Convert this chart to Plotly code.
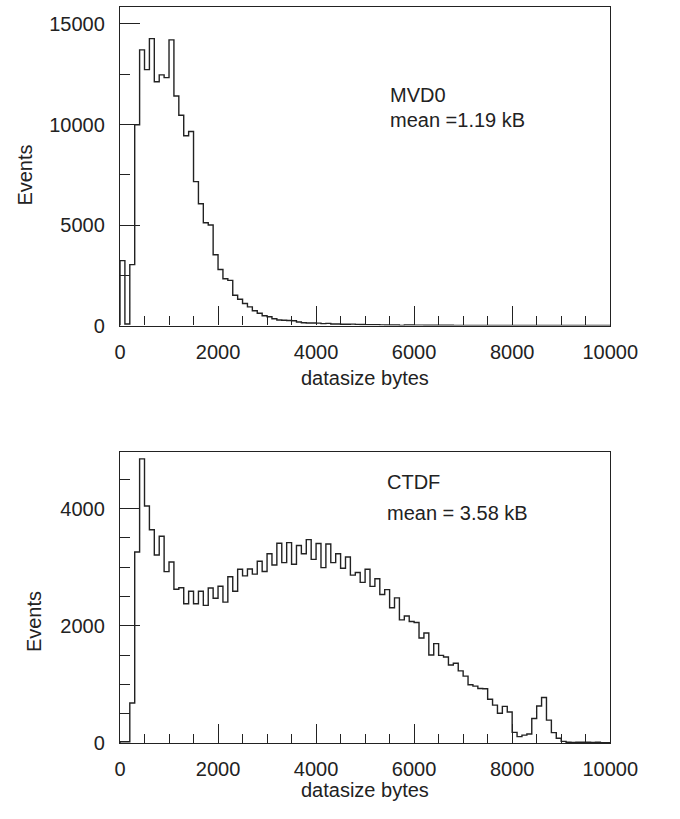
import plotly.graph_objects as go

# ---- data (100 bins of 100 bytes, 0..10000) ----
bin_width = 100
n_bins = 100

mvd0_counts = [
    3230, 80, 3030, 9990, 13710, 12730, 14270, 12130, 12470, 12330,
    14210, 11420, 10460, 9440, 9650, 7160, 6060, 5110, 5000, 3520,
    2790, 2330, 2250, 1510, 1310, 1100, 930, 740, 610, 490,
    440, 340, 280, 262, 250, 240, 180, 140, 128, 125,
    120, 97, 110, 80, 80, 64, 64, 72, 60, 55,
    47, 47, 45, 32, 30, 30, 25, 8, 30, 28,
    22, 20, 16, 15, 14, 13, 12, 12, 10, 8,
    7, 6, 6, 5, 5, 4, 4, 3, 3, 3,
    2, 2, 2, 2, 2, 1, 1, 1, 1, 1,
    1, 1, 1, 1, 0, 0, 0, 0, 0, 0,
]

ctdf_counts = [
    20, 20, 680, 3260, 4850, 4045, 3640, 3210, 3530, 2925,
    3090, 2625, 2650, 2376, 2589, 2376, 2589, 2348, 2646, 2471,
    2674, 2404, 2837, 2589, 2966, 2853, 2971, 2882, 3101, 2926,
    3230, 3039, 3409, 3078, 3421, 3050, 3370, 3230, 3471, 3134,
    3404, 2994, 3398, 3078, 3230, 2983, 3174, 2865, 2910, 2741,
    2966, 2673, 2802, 2533, 2617, 2308, 2477, 2101, 2168, 2073,
    2056, 1792, 1876, 1500, 1696, 1494, 1466, 1331, 1359, 1230,
    1140, 994, 970, 930, 925, 745, 645, 505, 623, 528,
    180, 107, 132, 152, 416, 629, 775, 388, 175, 80,
    25, 10, 8, 10, 12, 10, 8, 10, 5, 3,
]

x_ticks = [0, 2000, 4000, 6000, 8000, 10000]
top_y_ticks = [0, 5000, 10000, 15000]
bot_y_ticks = [0, 2000, 4000]

labels = {
    "x_title": "datasize bytes",
    "y_title": "Events",
    "top_name": "MVD0",
    "top_mean": "mean =1.19 kB",
    "bot_name": "CTDF",
    "bot_mean": "mean = 3.58 kB",
}

# ---- step outline built from bin edges ----
edges = [i * bin_width for i in range(n_bins + 1)]


def outline(counts):
    xs = [edges[0]] + edges[:n_bins] + [edges[n_bins], edges[n_bins]]
    ys = [0] + list(counts) + [counts[-1], 0]
    return xs, ys


W, H = 680, 819
INK = "#222222"
FONT = "Liberation Sans, Arial, sans-serif"
FS = 20


def px_x(p):
    return p / W


def px_y(p):
    return 1 - p / H


fig = go.Figure()
xs, ys = outline(mvd0_counts)
fig.add_trace(go.Scatter(x=xs, y=ys, mode="lines", xaxis="x", yaxis="y",
                         line=dict(shape="hv", color=INK, width=1.4),
                         showlegend=False, hoverinfo="skip"))
xs, ys = outline(ctdf_counts)
fig.add_trace(go.Scatter(x=xs, y=ys, mode="lines", xaxis="x2", yaxis="y2",
                         line=dict(shape="hv", color=INK, width=1.4),
                         showlegend=False, hoverinfo="skip"))

x_dom = [px_x(120), px_x(636)]


def xaxis(anchor):
    return dict(domain=x_dom, anchor=anchor, range=[0, 10000],
                tickmode="array", tickvals=x_ticks,
                ticktext=[str(v) for v in x_ticks],
                ticks="inside", ticklen=19, tickwidth=1.2, tickcolor=INK,
                minor=dict(dtick=500, tick0=0, ticks="inside", ticklen=9,
                           tickwidth=1.2, tickcolor=INK, showgrid=False),
                showline=True, linecolor=INK, linewidth=1.4, mirror=True,
                showgrid=False, zeroline=False,
                tickfont=dict(family=FONT, size=FS, color=INK),
                ticklabelstandoff=8)


def yaxis(anchor, dom, rng, ticks, minor_dt):
    return dict(domain=dom, anchor=anchor, range=rng,
                tickmode="array", tickvals=ticks,
                ticktext=[str(v) for v in ticks],
                ticks="inside", ticklen=20, tickwidth=1.2, tickcolor=INK,
                minor=dict(dtick=minor_dt, tick0=0, ticks="inside", ticklen=10,
                           tickwidth=1.2, tickcolor=INK, showgrid=False),
                showline=True, linecolor=INK, linewidth=1.4, mirror=True,
                showgrid=False, zeroline=False,
                tickfont=dict(family=FONT, size=FS, color=INK),
                ticklabelstandoff=10)


top_box = (7.3, 330)
bot_box = (458, 753)
top_ymax = 5000 * (top_box[1] - top_box[0]) / 101.9
bot_ymax = 2000 * (bot_box[1] - bot_box[0]) / 118.7

fig.update_layout(
    width=W, height=H,
    margin=dict(l=0, r=0, t=0, b=0),
    paper_bgcolor="white", plot_bgcolor="white",
    font=dict(family=FONT, size=FS, color=INK),
    xaxis=xaxis("y"),
    yaxis=yaxis("x", [px_y(top_box[1]), px_y(top_box[0])], [0, top_ymax],
                top_y_ticks, 2500),
    xaxis2=xaxis("y2"),
    yaxis2=yaxis("x2", [px_y(bot_box[1]), px_y(bot_box[0])], [0, bot_ymax],
                  bot_y_ticks, 500),
)


def ann(text, x, y, angle=0, xanchor="left"):
    return dict(text=text, x=px_x(x), y=px_y(y), xref="paper", yref="paper",
                showarrow=False, xanchor=xanchor, yanchor="middle",
                textangle=angle, font=dict(family=FONT, size=FS, color=INK))


fig.update_layout(annotations=[
    ann(labels["top_name"], 402, 96),
    ann(labels["top_mean"], 402, 122),
    ann(labels["bot_name"], 399, 489),
    ann(labels["bot_mean"], 399, 520),
    ann(labels["x_title"], 378, 383, xanchor="center"),
    ann(labels["x_title"], 378, 801, xanchor="center"),
    ann(labels["y_title"], 20, 178, angle=-90, xanchor="center"),
    ann(labels["y_title"], 29, 630, angle=-90, xanchor="center"),
])

fig.write_html("out.html")
